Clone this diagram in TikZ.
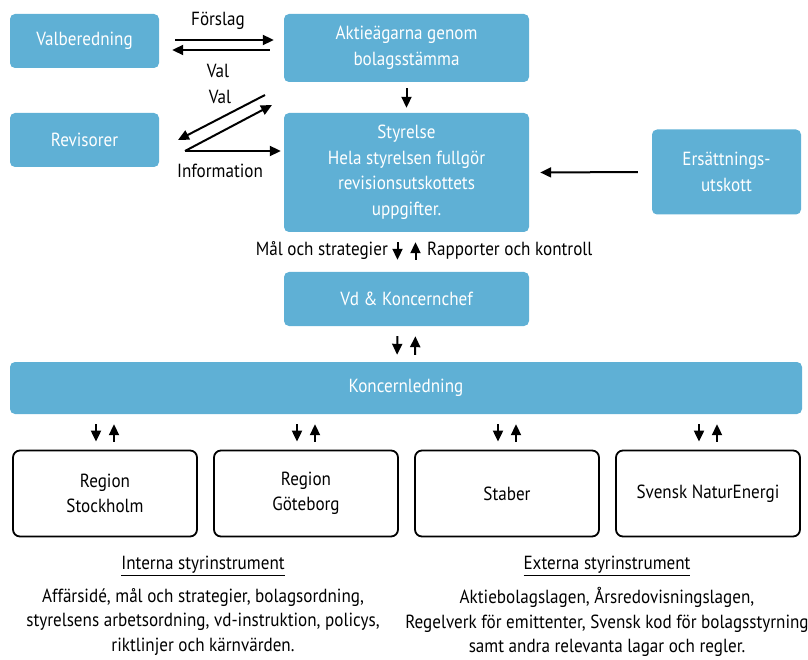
\documentclass[tikz,border=0pt]{standalone}
\usepackage{fontspec}
\setmainfont[FakeStretch=0.9]{PT Sans}
\usepackage{tikz}
\usetikzlibrary{arrows.meta,calc,positioning}
\definecolor{boxBlue}{RGB}{95,176,213}

\tikzset{
  blueBox/.style={rounded corners=5pt, fill=boxBlue, text=white, align=center, inner sep=0pt},
  whiteBox/.style={rounded corners=7pt, draw=black, line width=1.8pt, fill=white, align=center, inner sep=0pt,
    minimum width=184pt, minimum height=86pt},
  arr/.style={-{Triangle[length=11pt,width=10pt]}, line width=2pt},
  txt/.style={align=center, inner sep=0pt}
}

\begin{document}
\begin{tikzpicture}[x=1pt,y=-1pt,font=\fontsize{19}{25.5}\selectfont]

  \useasboundingbox (0,0) rectangle (808,660);

  % draw the top boxes
  \node[blueBox, minimum width=149pt, minimum height=54pt] (valberedning) at (84.5,41) {Valberedning};
  \node[blueBox, minimum width=245pt, minimum height=68pt] (aktie) at (406.5,48) {Aktieägarna genom\\bolagsstämma};
  \node[blueBox, minimum width=149pt, minimum height=54pt] (revisorer) at (84.5,140) {Revisorer};
  \node[blueBox, minimum width=245pt, minimum height=119pt] (styrelse) at (406.5,172.5)
    {Styrelse\\Hela styrelsen fullgör\\revisionsutskottets\\uppgifter.};
  \node[blueBox, minimum width=149pt, minimum height=85pt] (ersattning) at (726.5,172)
    {Ersättnings-\\utskott};
  \node[blueBox, minimum width=245pt, minimum height=54pt] (vd) at (406.5,299) {Vd \& Koncernchef};
  \node[blueBox, minimum width=792pt, minimum height=52pt] (koncern) at (406,388) {Koncernledning};

  % draw the regions
  \def\regions{105/{Region\\Stockholm}, 306/{Region\\Göteborg}, 507/{Staber}, 708/{Svensk NaturEnergi}}
  \foreach \cx/\name [count=\ni] in \regions
  {
    \node[whiteBox] (region\ni) at (\cx,493.5) {\name};
    \draw[arr, shorten <=10pt, shorten >=8pt] ([xshift=-9pt]koncern.south -| region\ni.north) -- ([xshift=-9pt]region\ni.north);
    \draw[arr, shorten <=8pt, shorten >=10pt] ([xshift=9pt]region\ni.north) -- ([xshift=9pt]koncern.south -| region\ni.north);
  }

  % arrows between the owners and the nomination committee
  \draw[arr, shorten <=16pt, shorten >=10pt] (valberedning.east |- 0,40) -- (aktie.west |- 0,40);
  \draw[arr, shorten <=14pt, shorten >=13pt] (aktie.west |- 0,50) -- (valberedning.east |- 0,50);
  \node[txt] (forslag) at (218,21) {Förslag};
  \node[txt] (valA) at (218,71) {Val};

  % arrows of the auditors
  \coordinate (valStart) at (265,95);
  \coordinate (infoStart) at (185,151);
  \coordinate (infoEnd) at (272,105);
  \draw[arr] (valStart) -- (178,140);
  \draw[arr] (infoStart) -- (infoEnd);
  \draw[arr, shorten >=3pt] (infoStart) -- (styrelse.west |- infoStart);
  \node[txt] (valB) at (220,97) {Val};
  \node[txt] (info) at (220,171) {Information};

  % vertical arrows
  \draw[arr, shorten <=6pt, shorten >=5pt] (aktie.south) -- (styrelse.north);
  \draw[arr, shorten <=14pt, shorten >=11pt] (ersattning.west) -- (styrelse.east);
  \draw[arr, shorten <=10pt, shorten >=12pt] ([xshift=-9pt]styrelse.south) -- ([xshift=-9pt]vd.north);
  \draw[arr, shorten <=12pt, shorten >=10pt] ([xshift=9pt]vd.north) -- ([xshift=9pt]styrelse.south);
  \node[txt, anchor=east] (mal) at (388,251) {Mål och strategier};
  \node[txt, anchor=west] (rapport) at (427,251) {Rapporter och kontroll};
  \draw[arr, shorten <=10pt, shorten >=7pt] ([xshift=-9pt]vd.south) -- ([xshift=-9pt]koncern.north);
  \draw[arr, shorten <=7pt, shorten >=10pt] ([xshift=9pt]koncern.north) -- ([xshift=9pt]vd.south);

  % the steering instruments
  \node[txt] (interna) at (203,566) {\underline{Interna styrinstrument}};
  \node[txt, font=\fontsize{19}{24.5}\selectfont] (internaText) at (203,622)
    {Affärsidé, mål och strategier, bolagsordning,\\styrelsens arbetsordning, vd-instruktion, policys,\\riktlinjer och kärnvärden.};
  \node[txt] (externa) at (607,566) {\underline{Externa styrinstrument}};
  \node[txt, font=\fontsize{19}{24.5}\selectfont] (externaText) at (607,622)
    {Aktiebolagslagen, Årsredovisningslagen,\\Regelverk för emittenter, Svensk kod för bolagsstyrning\\samt andra relevanta lagar och regler.};

\end{tikzpicture}
\end{document}
